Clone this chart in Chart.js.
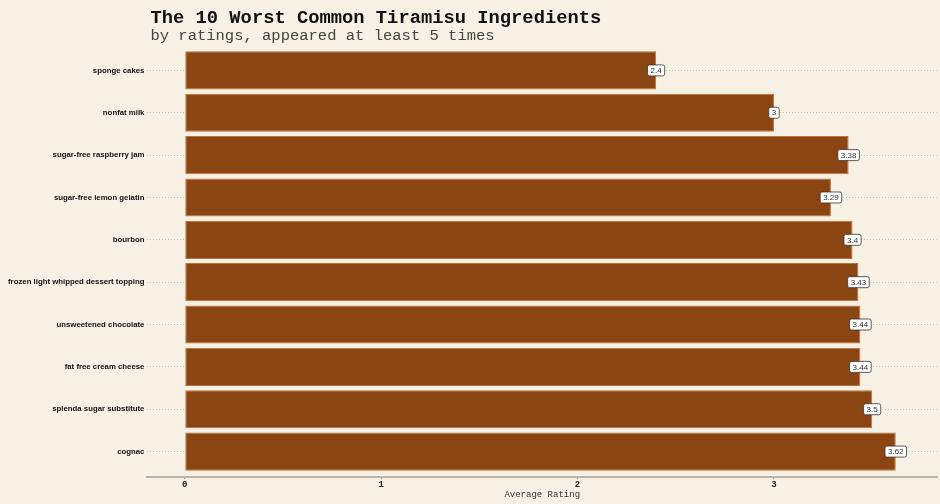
<!DOCTYPE html>
<html>
<head>
<meta charset="utf-8">
<script src="https://cdn.jsdelivr.net/npm/chart.js@4/dist/chart.umd.min.js"></script>
<style>
  html, body { margin: 0; padding: 0; background: #f7f1e5; }
  #wrap { width: 940px; height: 504px; position: relative; }
</style>
</head>
<body>
<div id="wrap"><canvas id="chart" width="940" height="504"></canvas></div>
<script>
// ingredients, top to bottom
const ingredients = [
  'sponge cakes',
  'nonfat milk',
  'sugar-free raspberry jam',
  'sugar-free lemon gelatin',
  'bourbon',
  'frozen light whipped dessert topping',
  'unsweetened chocolate',
  'fat free cream cheese',
  'splenda sugar substitute',
  'cognac'
];
const ratings = [2.4, 3, 3.38, 3.29, 3.4, 3.43, 3.44, 3.44, 3.5, 3.62];
const ratingLabels = ['2.4', '3', '3.38', '3.29', '3.4', '3.43', '3.44', '3.44', '3.5', '3.62'];
const xTicks = [0, 1, 2, 3];

const titleText = 'The 10 Worst Common Tiramisu Ingredients';
const subtitleText = 'by ratings, appeared at least 5 times';

// white boxed value labels at the bar ends
const valueBoxes = {
  id: 'valueBoxes',
  afterDatasetsDraw(chart) {
    const ctx = chart.ctx;
    const meta = chart.getDatasetMeta(0);
    ctx.save();
    ctx.font = '8px "Liberation Sans", Arial, sans-serif';
    ctx.textAlign = 'center';
    ctx.textBaseline = 'middle';
    meta.data.forEach((bar, i) => {
      const txt = ratingLabels[i];
      const w = ctx.measureText(txt).width + 6;
      const h = 11;
      const x = bar.x, y = bar.y;
      ctx.beginPath();
      ctx.roundRect(x - w / 2, y - h / 2, w, h, 2);
      ctx.fillStyle = '#ffffff';
      ctx.fill();
      ctx.strokeStyle = '#333333';
      ctx.lineWidth = 0.8;
      ctx.stroke();
      ctx.fillStyle = '#333333';
      ctx.fillText(txt, x, y + 0.5);
    });
    ctx.restore();
  }
};

// title + subtitle, left aligned with the plot
const headings = {
  id: 'headings',
  afterDraw(chart) {
    const ctx = chart.ctx;
    const left = chart.chartArea.left + 3;
    ctx.save();
    ctx.textAlign = 'left';
    ctx.textBaseline = 'alphabetic';
    ctx.fillStyle = '#111111';
    ctx.font = 'bold 18.8px "Liberation Mono", "DejaVu Sans Mono", monospace';
    ctx.fillText(titleText, left, 23);
    ctx.fillStyle = '#444444';
    ctx.font = '15.5px "Liberation Mono", "DejaVu Sans Mono", monospace';
    ctx.fillText(subtitleText, left, 40);
    ctx.restore();
  }
};

const points = ratings.map((v, i) => ({ x: v, y: i + 1 }));

new Chart(document.getElementById('chart'), {
  type: 'bar',
  data: {
    datasets: [{
      data: points,
      backgroundColor: '#8b4513',
      borderColor: '#c0703a',
      borderWidth: 1,
      borderSkipped: false,
      barPercentage: 0.9,
      categoryPercentage: 1
    }]
  },
  options: {
    indexAxis: 'y',
    responsive: false,
    animation: false,
    layout: { padding: { top: 45, right: 3, bottom: 0, left: 5 } },
    plugins: {
      legend: { display: false },
      tooltip: { enabled: false }
    },
    scales: {
      x: {
        type: 'linear',
        min: -0.19,
        max: 3.83,
        afterBuildTicks: axis => { axis.ticks = xTicks.map(v => ({ value: v })); },
        grid: {
          drawOnChartArea: false,
          drawTicks: true,
          tickLength: 2,
          color: '#999999'
        },
        border: { display: true, color: '#b8b4a8', width: 2 },
        ticks: {
          color: '#222222',
          padding: 1,
          font: { family: '"Liberation Mono", monospace', size: 9, weight: 'bold', lineHeight: 1 }
        },
        title: {
          display: true,
          text: 'Average Rating',
          color: '#333333',
          padding: { top: 0, bottom: 5 },
          font: { family: '"Liberation Mono", monospace', size: 9, lineHeight: 1 }
        }
      },
      y: {
        type: 'linear',
        reverse: true,
        offset: false,
        min: 0.4,
        max: 10.6,
        afterBuildTicks: axis => { axis.ticks = ingredients.map((c, i) => ({ value: i + 1 })); },
        grid: {
          offset: false,
          drawTicks: false,
          color: '#c8c4b8',
          lineWidth: 1
        },
        border: { display: false, dash: [1, 2] },
        ticks: {
          color: '#111111',
          padding: 3,
          font: { family: '"Liberation Sans", Arial, sans-serif', size: 7.8, weight: 'bold' },
          callback: v => ingredients[v - 1]
        }
      }
    }
  },
  plugins: [valueBoxes, headings]
});
</script>
</body>
</html>
